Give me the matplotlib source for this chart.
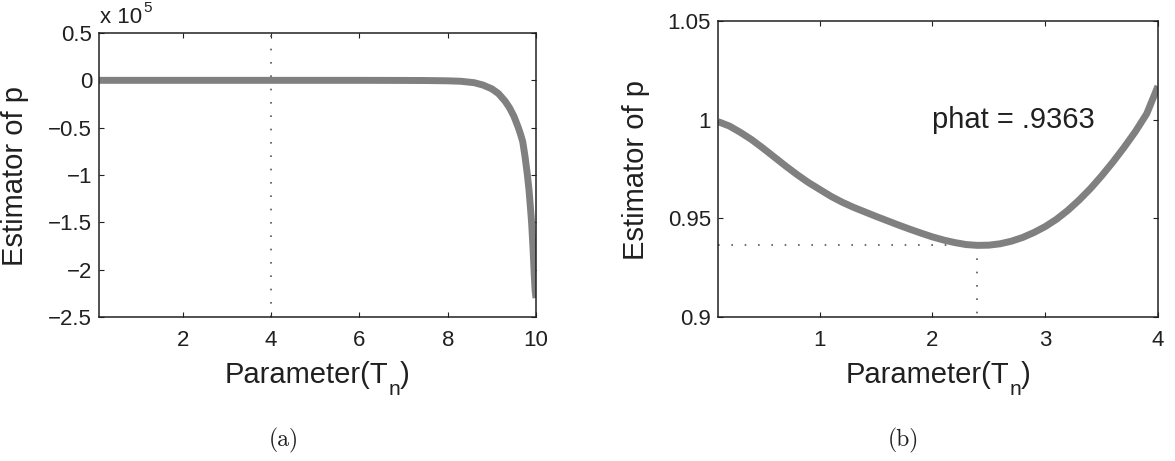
import matplotlib
matplotlib.use("Agg")
import matplotlib.pyplot as plt
from matplotlib.ticker import FuncFormatter

plt.rcParams['font.family'] = ['Liberation Sans', 'DejaVu Sans']

# ---------------- data ----------------
# panel (a): estimator of p vs parameter T_n
x_a = [0.1, 1, 2, 3, 4, 5, 6, 7, 7.5, 8, 8.3, 8.6, 8.8, 9.0, 9.15, 9.3,
       9.4, 9.5, 9.55, 9.6, 9.65, 9.7, 9.75, 9.8, 9.84, 9.87, 9.9, 9.93,
       9.96, 9.98, 10]
y_a = [0, 0, 0, 0, 0, 0, 0, -100, -200, -500, -1000, -2500, -5000, -9000,
       -14000, -22000, -29000, -38000, -44000, -50000, -57000, -65000,
       -80000, -98000, -115000, -132000, -150000, -175000, -205000,
       -222000, -230000]
vline_a = 4

# panel (b)
x_b = [0.1, 0.2, 0.3, 0.4, 0.5, 0.6, 0.7, 0.8, 0.9, 1.0, 1.1, 1.2, 1.3, 1.4,
       1.5, 1.6, 1.7, 1.8, 1.9, 2.0, 2.1, 2.2, 2.3, 2.4, 2.5, 2.6, 2.7, 2.8,
       2.9, 3.0, 3.1, 3.2, 3.3, 3.4, 3.5, 3.6, 3.7, 3.8, 3.9, 4.0]
y_b = [0.9990, 0.9968, 0.9935, 0.9898, 0.9855, 0.9810, 0.9765, 0.9722,
       0.9682, 0.9647, 0.9612, 0.9582, 0.9556, 0.9533, 0.9510, 0.9488,
       0.9466, 0.9445, 0.9425, 0.9406, 0.9390, 0.9377, 0.9367, 0.9363,
       0.9364, 0.9371, 0.9384, 0.9403, 0.9428, 0.9458, 0.9495, 0.9540,
       0.9592, 0.9650, 0.9715, 0.9785, 0.9860, 0.9940, 1.0030, 1.0170]
phat_x = 2.4
phat_y = 0.9363
phat_text = "phat = .9363"

xticks_a = [2, 4, 6, 8, 10]
yticks_a = [0.5, 0, -0.5, -1, -1.5, -2, -2.5]
xticks_b = [1, 2, 3, 4]
yticks_b = [0.9, 0.95, 1, 1.05]
scale_a = 1e5

# ---------------- figure ----------------
W, H = 1175, 461
fig = plt.figure(figsize=(W / 100, H / 100), dpi=100)
axL = fig.add_axes([99 / W, 1 - 317 / H, 437 / W, 284 / H])
axR = fig.add_axes([718 / W, 1 - 317 / H, 440 / W, 296 / H])

line_col = '#808080'
dot_col = '#555555'
dotted = (0, (1, 7))
txt_col = '#202020'

fmt = FuncFormatter(lambda v, p: f"{v:g}".replace('-', '\u2212'))

# panel (a)
axL.plot([vline_a, vline_a], [-2.5, 0.5], color=dot_col, lw=1.2, ls=dotted)
axL.plot(x_a, [v / scale_a for v in y_a], color=line_col, lw=5,
         solid_joinstyle='round', solid_capstyle='butt')
axL.set_xlim(0.1, 10)
axL.set_ylim(-2.5, 0.5)
axL.set_xticks(xticks_a)
axL.set_yticks(yticks_a)
axL.yaxis.set_major_formatter(fmt)
axL.xaxis.set_major_formatter(fmt)

# panel (b)
axR.plot([0.1, phat_x], [phat_y, phat_y], color=dot_col, lw=1.2, ls=dotted)
axR.plot([phat_x, phat_x], [phat_y, 0.9], color=dot_col, lw=1.2, ls=dotted)
axR.plot(x_b, y_b, color=line_col, lw=5, solid_joinstyle='round',
         solid_capstyle='butt')
axR.set_xlim(0.1, 4)
axR.set_ylim(0.9, 1.05)
axR.set_xticks(xticks_b)
axR.set_yticks(yticks_b)
axR.yaxis.set_major_formatter(fmt)
axR.xaxis.set_major_formatter(fmt)
axR.text(2.0, 1.0, phat_text, fontsize=21, va='center', ha='left',
         color=txt_col)

for ax in (axL, axR):
    for s in ax.spines.values():
        s.set_linewidth(1.1)
        s.set_color(txt_col)
    ax.tick_params(direction='in', length=3.5, width=0.8, top=True,
                   right=True, labelsize=16, colors=txt_col)
    ax.tick_params(axis='x', pad=9)
    ax.tick_params(axis='y', pad=5)

# offset text for panel (a): "x 10" with a high superscript 5
fig.text(100 / W, 1 - 23 / H, "x 10", fontsize=16, ha='left',
         va='baseline', color=txt_col)
renderer = fig.canvas.get_renderer()


def width_px(s, size):
    t = fig.text(0, 0, s, fontsize=size)
    w = t.get_window_extent(renderer).width
    t.remove()
    return w


fig.text((100 + width_px("x 10", 16) + 1) / W, 1 - 12 / H, "5", fontsize=11,
         ha='left', va='baseline', color=txt_col)

# axis labels: Parameter(T_n) with a Matlab-like low subscript
w1 = width_px("Parameter(T", 21)
wn = width_px("n", 15)
w2 = width_px(")", 21)
total = w1 + wn + w2
base_y = 383
for cx in (317, 938):
    x0 = cx - total / 2
    fig.text(x0 / W, 1 - base_y / H, "Parameter(T", fontsize=21,
             ha='left', va='baseline', color=txt_col)
    fig.text((x0 + w1) / W, 1 - (base_y + 12) / H, "n", fontsize=15,
             ha='left', va='baseline', color=txt_col)
    fig.text((x0 + w1 + wn) / W, 1 - base_y / H, ")", fontsize=21,
             ha='left', va='baseline', color=txt_col)

fig.text(15 / W, 1 - 176 / H, "Estimator of p", fontsize=21, rotation=90,
         ha='center', va='center', color=txt_col)
fig.text(636 / W, 1 - 170 / H, "Estimator of p", fontsize=21, rotation=90,
         ha='center', va='center', color=txt_col)

# sub-captions
fig.text(284 / W, 1 - 440 / H, "(a)", fontsize=17, family='cmr10',
         ha='center', va='center', color=txt_col)
fig.text(903 / W, 1 - 440 / H, "(b)", fontsize=17, family='cmr10',
         ha='center', va='center', color=txt_col)

fig.savefig("out.png", dpi=100)
